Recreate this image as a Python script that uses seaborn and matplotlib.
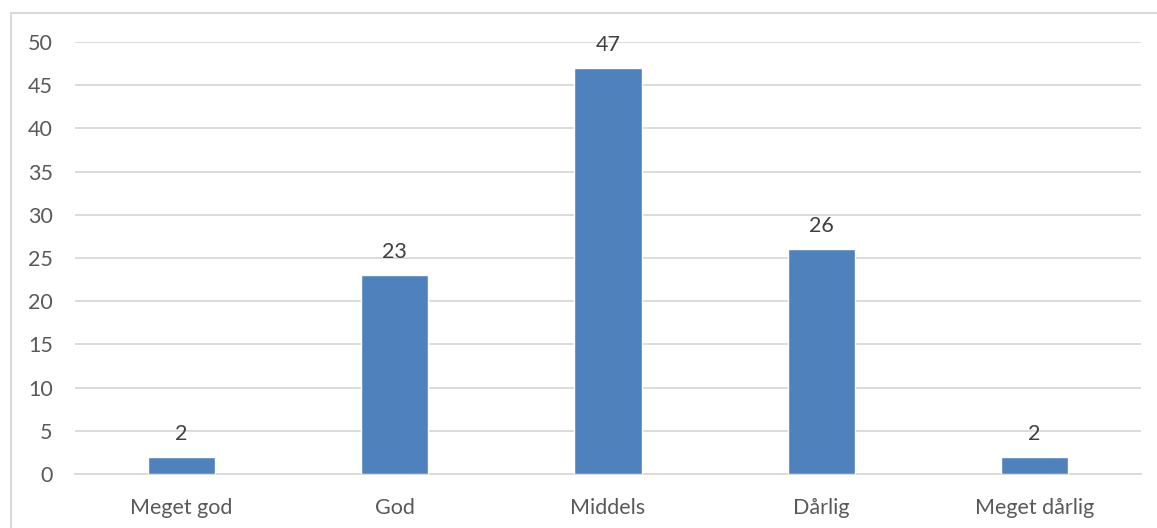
import matplotlib.pyplot as plt
import pandas as pd
import seaborn as sns
from matplotlib.patches import Rectangle

# Data
categories = ['Meget god', 'God', 'Middels', 'Dårlig', 'Meget dårlig']
counts = [2, 23, 47, 26, 2]

df = pd.DataFrame({'kategori': categories, 'antall': counts})

sns.set_style('white')
plt.rcParams['font.family'] = ['Lato', 'DejaVu Sans']

fig = plt.figure(figsize=(11.57, 5.28), dpi=100)
ax = fig.add_axes([75 / 1157, 1 - 474 / 528, (1141 - 75) / 1157, (474 - 42) / 528])

# outer chart border (open at right/bottom like the crop)
fig.patches.append(Rectangle((11 / 1157, -0.1), 1.2, 0.975 + 0.1, transform=fig.transFigure,
                             fill=False, edgecolor='#D9D9D9', linewidth=1.5, zorder=0))

sns.barplot(data=df, x='kategori', y='antall', color='#4F81BD', saturation=1,
            width=0.315, ax=ax, zorder=3)

ax.set_ylim(0, 50)
ax.set_yticks(range(0, 51, 5))
ax.yaxis.grid(True, color='#D9D9D9', linewidth=1.3, zorder=0)
ax.set_axisbelow(True)
for s in ['top', 'right', 'left']:
    ax.spines[s].set_visible(False)
ax.spines['bottom'].set_color('#D9D9D9')
ax.spines['bottom'].set_linewidth(1.3)

fs = 15.5
ax.tick_params(axis='both', length=0, labelsize=fs, colors='#595959')
ax.tick_params(axis='y', pad=16)
ax.tick_params(axis='x', pad=17)
ax.set_xlabel('')
ax.set_ylabel('')

ax.bar_label(ax.containers[0], padding=9.5, fontsize=fs, color='#404040')

fig.savefig('out.png', dpi=100)
